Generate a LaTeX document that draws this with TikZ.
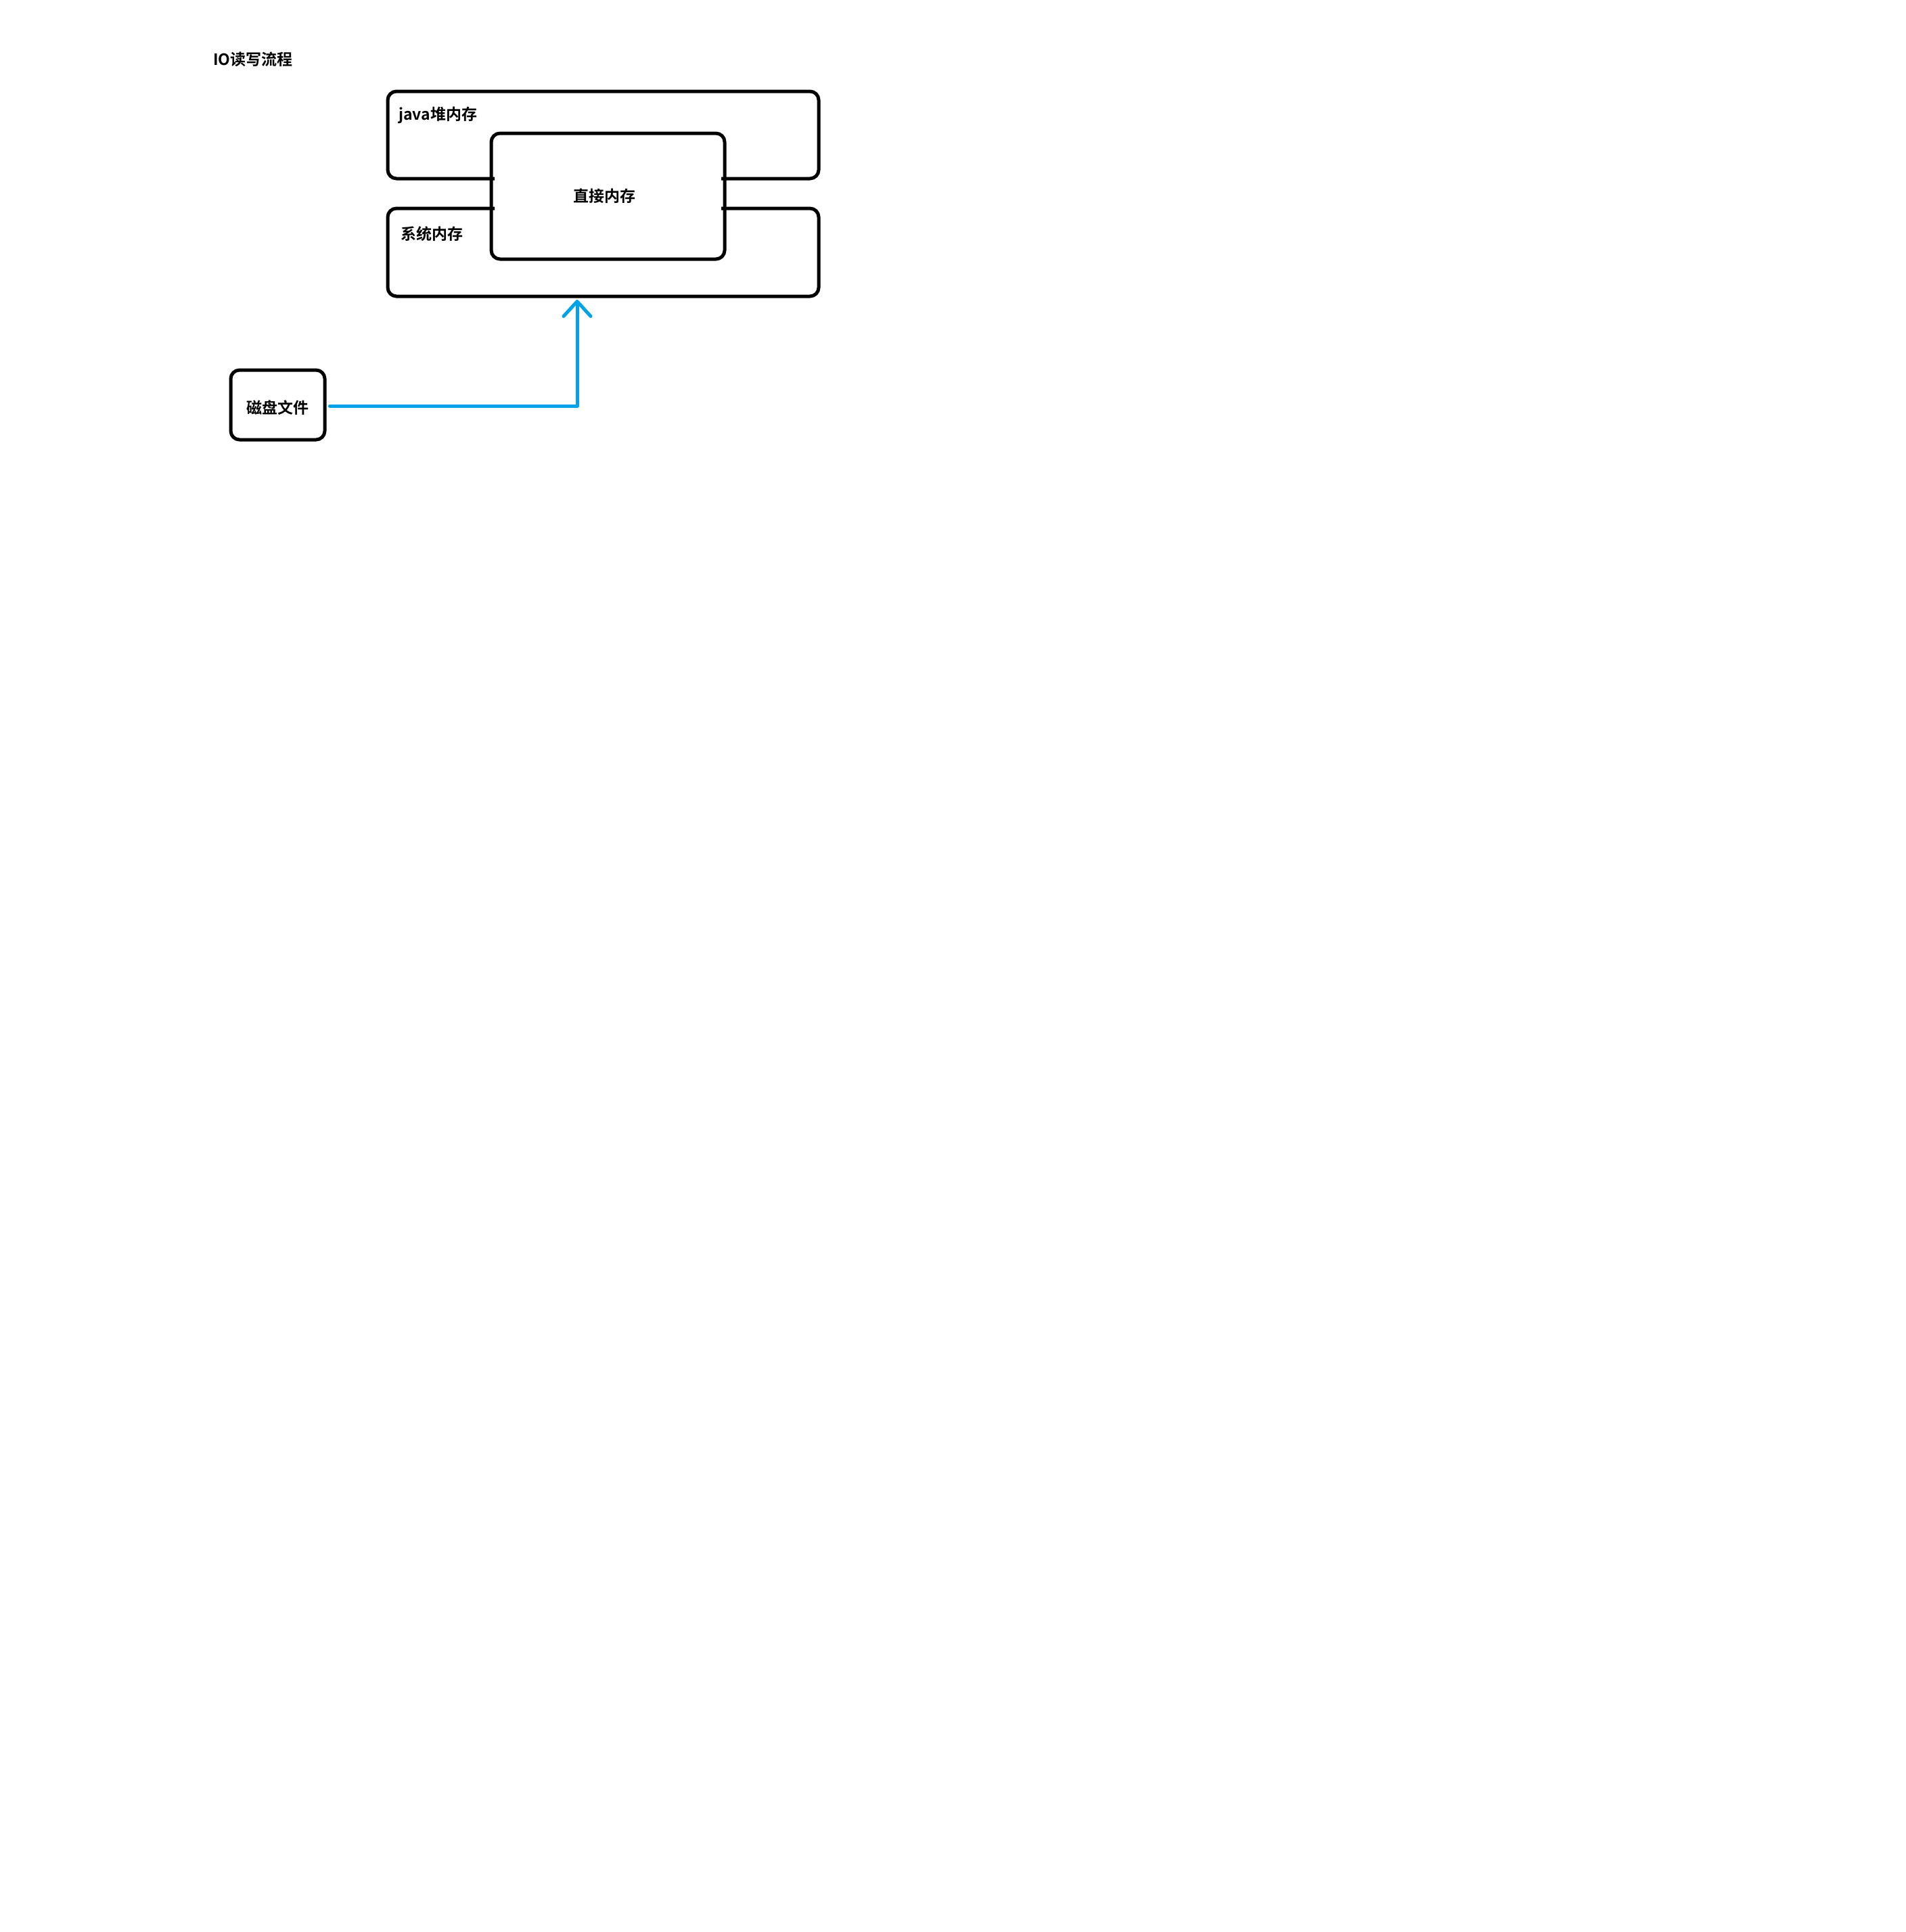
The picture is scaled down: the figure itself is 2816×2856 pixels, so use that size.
\documentclass[tikz,border=0pt]{standalone}
\usepackage{fontspec}
\setmainfont{Noto Sans CJK SC Bold}
\usetikzlibrary{arrows.meta}
\definecolor{paintblue}{HTML}{00A2E8}
\tikzset{
  frame/.style={draw=black, line width=5pt, rounded corners=13pt},
  lbl/.style={inner sep=0pt, font=\fontsize{23}{27}\selectfont, text=black},
  flow/.style={draw=paintblue, line width=5pt, line cap=round, line join=round,
    -{Straight Barb[length=22pt, width=40pt, line cap=round, line join=round]}}
}
\begin{document}
\begin{tikzpicture}[x=1pt, y=-1pt]
\useasboundingbox[fill=white] (0,0) rectangle (2816,2856);
% title
\node[lbl, anchor=base west] (title) at (315,96.5) {IO读写流程};
% direct memory box
\node[frame, fill=white, minimum width=345pt, minimum height=186pt, inner sep=0pt] (direct) at (898.5,290) {};
\node[lbl, anchor=base] (directlbl) at (893,298.5) {直接内存};
% java heap (open frame meeting the direct box)
\draw[frame] (731,264) -- (573,264) -- (573,135) -- (1210,135) -- (1210,264) -- (1066,264);
\node[lbl, anchor=base west] (javalbl) at (589,177.5) {java堆内存};
% system memory
\draw[frame] (731,308) -- (573,308) -- (573,438) -- (1210,438) -- (1210,308) -- (1066,308);
\node[lbl, anchor=base west] (syslbl) at (592,354.5) {系统内存};
% disk file
\node[frame, minimum width=139pt, minimum height=103pt, inner sep=0pt] (disk) at (410.5,598.5) {};
\node[lbl, anchor=base] (disklbl) at (410,611.5) {磁盘文件};
% arrow
\coordinate (tip) at (853,443);
\draw[flow] ([xshift=5pt,yshift=-1.5pt]disk.east) -- ([yshift=-1.5pt]disk.east -| tip) -- (tip);
\end{tikzpicture}
\end{document}
